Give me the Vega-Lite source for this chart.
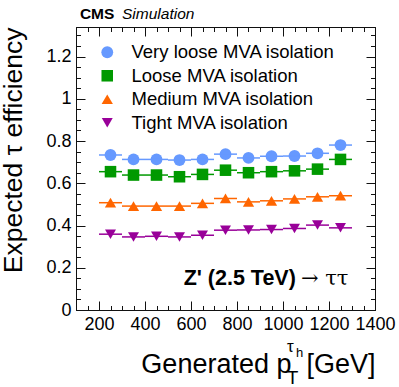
{
  "$schema": "https://vega.github.io/schema/vega-lite/v6.json",
  "width": 299,
  "height": 283,
  "autosize": "none",
  "padding": {"left": 76, "top": 27, "right": 24, "bottom": 77},
  "config": {
    "font": "Liberation Sans",
    "view": {"stroke": "#111", "strokeWidth": 1},
    "axis": {"grid": false, "domainColor": "#111", "domainWidth": 1, "tickColor": "#111", "tickWidth": 1, "labelColor": "black", "titleColor": "black", "labelFont": "Liberation Sans", "titleFont": "Liberation Sans", "labelFontSize": 18, "titleFontSize": 27, "titleFontWeight": "normal", "labelOverlap": false, "labelFlush": false}
  },
  "datasets": {
    "eff": [
      {"series": "Very loose MVA isolation", "pt": 250, "lo": 200, "hi": 300, "eff": 0.734},
      {"series": "Very loose MVA isolation", "pt": 350, "lo": 300, "hi": 400, "eff": 0.713},
      {"series": "Very loose MVA isolation", "pt": 450, "lo": 400, "hi": 500, "eff": 0.713},
      {"series": "Very loose MVA isolation", "pt": 550, "lo": 500, "hi": 600, "eff": 0.710},
      {"series": "Very loose MVA isolation", "pt": 650, "lo": 600, "hi": 700, "eff": 0.713},
      {"series": "Very loose MVA isolation", "pt": 750, "lo": 700, "hi": 800, "eff": 0.738},
      {"series": "Very loose MVA isolation", "pt": 850, "lo": 800, "hi": 900, "eff": 0.720},
      {"series": "Very loose MVA isolation", "pt": 950, "lo": 900, "hi": 1000, "eff": 0.728},
      {"series": "Very loose MVA isolation", "pt": 1050, "lo": 1000, "hi": 1100, "eff": 0.729},
      {"series": "Very loose MVA isolation", "pt": 1150, "lo": 1100, "hi": 1200, "eff": 0.742},
      {"series": "Very loose MVA isolation", "pt": 1250, "lo": 1200, "hi": 1300, "eff": 0.781},
      {"series": "Loose MVA isolation", "pt": 250, "lo": 200, "hi": 300, "eff": 0.655},
      {"series": "Loose MVA isolation", "pt": 350, "lo": 300, "hi": 400, "eff": 0.639},
      {"series": "Loose MVA isolation", "pt": 450, "lo": 400, "hi": 500, "eff": 0.639},
      {"series": "Loose MVA isolation", "pt": 550, "lo": 500, "hi": 600, "eff": 0.631},
      {"series": "Loose MVA isolation", "pt": 650, "lo": 600, "hi": 700, "eff": 0.642},
      {"series": "Loose MVA isolation", "pt": 750, "lo": 700, "hi": 800, "eff": 0.662},
      {"series": "Loose MVA isolation", "pt": 850, "lo": 800, "hi": 900, "eff": 0.650},
      {"series": "Loose MVA isolation", "pt": 950, "lo": 900, "hi": 1000, "eff": 0.655},
      {"series": "Loose MVA isolation", "pt": 1050, "lo": 1000, "hi": 1100, "eff": 0.659},
      {"series": "Loose MVA isolation", "pt": 1150, "lo": 1100, "hi": 1200, "eff": 0.667},
      {"series": "Loose MVA isolation", "pt": 1250, "lo": 1200, "hi": 1300, "eff": 0.713},
      {"series": "Medium MVA isolation", "pt": 250, "lo": 200, "hi": 300, "eff": 0.508},
      {"series": "Medium MVA isolation", "pt": 350, "lo": 300, "hi": 400, "eff": 0.492},
      {"series": "Medium MVA isolation", "pt": 450, "lo": 400, "hi": 500, "eff": 0.492},
      {"series": "Medium MVA isolation", "pt": 550, "lo": 500, "hi": 600, "eff": 0.492},
      {"series": "Medium MVA isolation", "pt": 650, "lo": 600, "hi": 700, "eff": 0.505},
      {"series": "Medium MVA isolation", "pt": 750, "lo": 700, "hi": 800, "eff": 0.528},
      {"series": "Medium MVA isolation", "pt": 850, "lo": 800, "hi": 900, "eff": 0.512},
      {"series": "Medium MVA isolation", "pt": 950, "lo": 900, "hi": 1000, "eff": 0.517},
      {"series": "Medium MVA isolation", "pt": 1050, "lo": 1000, "hi": 1100, "eff": 0.526},
      {"series": "Medium MVA isolation", "pt": 1150, "lo": 1100, "hi": 1200, "eff": 0.536},
      {"series": "Medium MVA isolation", "pt": 1250, "lo": 1200, "hi": 1300, "eff": 0.541},
      {"series": "Tight MVA isolation", "pt": 250, "lo": 200, "hi": 300, "eff": 0.359},
      {"series": "Tight MVA isolation", "pt": 350, "lo": 300, "hi": 400, "eff": 0.346},
      {"series": "Tight MVA isolation", "pt": 450, "lo": 400, "hi": 500, "eff": 0.349},
      {"series": "Tight MVA isolation", "pt": 550, "lo": 500, "hi": 600, "eff": 0.346},
      {"series": "Tight MVA isolation", "pt": 650, "lo": 600, "hi": 700, "eff": 0.354},
      {"series": "Tight MVA isolation", "pt": 750, "lo": 700, "hi": 800, "eff": 0.378},
      {"series": "Tight MVA isolation", "pt": 850, "lo": 800, "hi": 900, "eff": 0.379},
      {"series": "Tight MVA isolation", "pt": 950, "lo": 900, "hi": 1000, "eff": 0.381},
      {"series": "Tight MVA isolation", "pt": 1050, "lo": 1000, "hi": 1100, "eff": 0.386},
      {"series": "Tight MVA isolation", "pt": 1150, "lo": 1100, "hi": 1200, "eff": 0.402},
      {"series": "Tight MVA isolation", "pt": 1250, "lo": 1200, "hi": 1300, "eff": 0.389}
    ]
  },
  "layer": [
    {
      "data": {"name": "eff"},
      "mark": {"type": "point", "opacity": 0},
      "encoding": {
        "x": {"field": "pt", "type": "quantitative", "scale": {"domain": [100, 1400], "nice": false, "zero": false},
          "axis": {"orient": "top", "title": null, "labels": false, "values": [100,150,200,250,300,350,400,450,500,550,600,650,700,750,800,850,900,950,1000,1050,1100,1150,1200,1250,1300,1350,1400],
            "tickSize": {"condition": {"test": "datum.value / 200 == round(datum.value / 200)", "value": -9}, "value": -4.5}}},
        "y": {"field": "eff", "type": "quantitative", "scale": {"domain": [0, 1.34], "nice": false, "zero": false},
          "axis": {"orient": "right", "title": null, "labels": false, "values": [0,0.05,0.1,0.15,0.2,0.25,0.3,0.35,0.4,0.45,0.5,0.55,0.6,0.65,0.7,0.75,0.8,0.85,0.9,0.95,1,1.05,1.1,1.15,1.2,1.25,1.3],
            "tickSize": {"condition": {"test": "abs(datum.value * 5 - round(datum.value * 5)) < 0.001", "value": -9}, "value": -4.5}}}
      }
    },
    {
      "data": {"name": "eff"},
      "mark": {"type": "point", "filled": true, "opacity": 1},
      "encoding": {
        "x": {"field": "pt", "type": "quantitative",
          "axis": {"orient": "bottom", "title": "Generated p\u00a0\u00a0[GeV]", "titleAnchor": "end", "titleAlign": "right", "titleX": 299, "titleY": 62, "titleBaseline": "alphabetic",
            "values": [100,150,200,250,300,350,400,450,500,550,600,650,700,750,800,850,900,950,1000,1050,1100,1150,1200,1250,1300,1350,1400],
            "labelExpr": "datum.value / 200 == round(datum.value / 200) ? toString(datum.value) : ''", "labelPadding": 14,
            "tickSize": {"condition": {"test": "datum.value / 200 == round(datum.value / 200)", "value": -9}, "value": -4.5}}},
        "y": {"field": "eff", "type": "quantitative",
          "axis": {"orient": "left", "title": "Expected τ efficiency", "titleFontSize": 26.5, "titleAnchor": "end", "titleAlign": "right", "titleX": -55, "titleY": 0, "titleBaseline": "alphabetic", "titleAngle": 270,
            "values": [0,0.05,0.1,0.15,0.2,0.25,0.3,0.35,0.4,0.45,0.5,0.55,0.6,0.65,0.7,0.75,0.8,0.85,0.9,0.95,1,1.05,1.1,1.15,1.2,1.25,1.3],
            "labelExpr": "abs(datum.value * 5 - round(datum.value * 5)) < 0.001 ? format(datum.value, '~g') : ''", "labelPadding": 14,
            "tickSize": {"condition": {"test": "abs(datum.value * 5 - round(datum.value * 5)) < 0.001", "value": -9}, "value": -4.5}}},
        "color": {"field": "series", "type": "nominal",
          "scale": {"domain": ["Very loose MVA isolation", "Loose MVA isolation", "Medium MVA isolation", "Tight MVA isolation"], "range": ["#6699ff", "#009900", "#ff6600", "#990099"]},
          "legend": {"orient": "none", "legendX": 22, "legendY": 16, "title": null, "padding": 0, "labelFontSize": 18.5, "labelFont": "Liberation Sans", "labelColor": "black", "symbolSize": 180, "rowPadding": 4.5, "labelOffset": 15, "symbolStrokeWidth": 0, "labelLimit": 400}},
        "shape": {"field": "series", "type": "nominal",
          "scale": {"domain": ["Very loose MVA isolation", "Loose MVA isolation", "Medium MVA isolation", "Tight MVA isolation"], "range": ["circle", "square", "triangle-up", "triangle-down"]}},
        "size": {"field": "series", "type": "nominal", "legend": null,
          "scale": {"domain": ["Very loose MVA isolation", "Loose MVA isolation", "Medium MVA isolation", "Tight MVA isolation"], "range": [140, 120, 170, 170]}}
      }
    },
    {
      "data": {"name": "eff"},
      "mark": {"type": "rule", "strokeWidth": 1.5},
      "encoding": {
        "x": {"field": "lo", "type": "quantitative", "axis": null},
        "x2": {"field": "hi"},
        "y": {"field": "eff", "type": "quantitative", "axis": null},
        "color": {"field": "series", "type": "nominal"}
      }
    },
    {
      "data": {"values": [{"t": "CMS"}]},
      "mark": {"type": "text", "align": "left", "baseline": "alphabetic", "fontWeight": "bold", "fontSize": 15.5, "color": "black"},
      "encoding": {"text": {"field": "t"}, "x": {"datum": 117, "type": "quantitative", "axis": null}, "y": {"datum": 1.378, "type": "quantitative", "axis": null}}
    },
    {
      "data": {"values": [{"t": "Simulation"}]},
      "mark": {"type": "text", "align": "left", "baseline": "alphabetic", "fontStyle": "italic", "fontSize": 15.5, "color": "black"},
      "encoding": {"text": {"field": "t"}, "x": {"datum": 300, "type": "quantitative", "axis": null}, "y": {"datum": 1.378, "type": "quantitative", "axis": null}}
    },
    {
      "data": {"values": [{"t": "Z' (2.5 TeV)"}]},
      "mark": {"type": "text", "align": "right", "baseline": "alphabetic", "fontWeight": "bold", "fontSize": 21.5, "color": "black"},
      "encoding": {"text": {"field": "t"}, "x": {"datum": 1056, "type": "quantitative", "axis": null}, "y": {"datum": 0.118, "type": "quantitative", "axis": null}}
    },
    {
      "data": {"values": [{"t": "→ ττ"}]},
      "mark": {"type": "text", "align": "left", "baseline": "alphabetic", "font": "DejaVu Serif", "fontSize": 21, "color": "black"},
      "encoding": {"text": {"field": "t"}, "x": {"datum": 1078, "type": "quantitative", "axis": null}, "y": {"datum": 0.118, "type": "quantitative", "axis": null}}
    },
    {
      "data": {"values": [{"t": "T"}]},
      "mark": {"type": "text", "align": "center", "baseline": "alphabetic", "fontSize": 19, "color": "black"},
      "encoding": {"text": {"field": "t"}, "x": {"datum": 1041, "type": "quantitative", "axis": null}, "y": {"datum": -0.352, "type": "quantitative", "axis": null}}
    },
    {
      "data": {"values": [{"t": "τ"}]},
      "mark": {"type": "text", "align": "left", "baseline": "alphabetic", "fontSize": 17, "color": "black"},
      "encoding": {"text": {"field": "t"}, "x": {"datum": 1017, "type": "quantitative", "axis": null}, "y": {"datum": -0.199, "type": "quantitative", "axis": null}}
    },
    {
      "data": {"values": [{"t": "h"}]},
      "mark": {"type": "text", "align": "left", "baseline": "alphabetic", "fontSize": 13, "color": "black"},
      "encoding": {"text": {"field": "t"}, "x": {"datum": 1057, "type": "quantitative", "axis": null}, "y": {"datum": -0.2225, "type": "quantitative", "axis": null}}
    }
  ],
  "resolve": {"axis": {"x": "independent", "y": "independent"}}
}
